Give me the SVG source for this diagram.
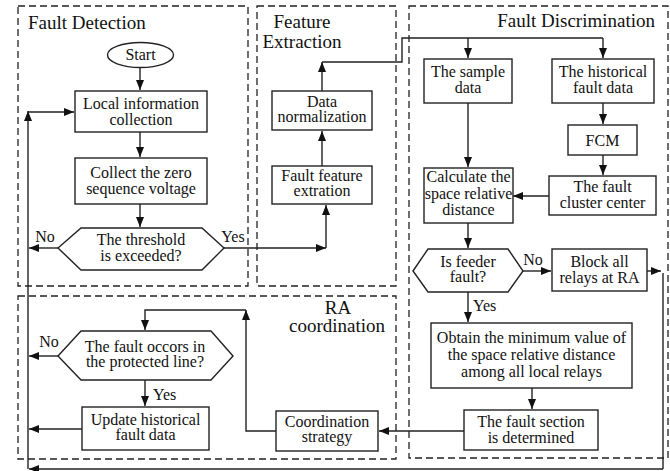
<svg xmlns="http://www.w3.org/2000/svg" width="670" height="471" viewBox="0 0 670 471" font-family="'Liberation Serif', 'DejaVu Serif', serif">
<style>
.frame{fill:none;stroke:#222;stroke-width:1.3;stroke-dasharray:7 4}
.box{fill:#fff;stroke:#222;stroke-width:1.4}
.ln{fill:none;stroke:#222;stroke-width:1.4}
.arr{marker-end:url(#ah)}
text{font-family:'Liberation Serif','DejaVu Serif',serif;font-size:16px;fill:#111;text-anchor:middle}
.title{font-size:19px}
.lbl{font-size:16px}
</style>
<defs>
<marker id="ah" markerUnits="userSpaceOnUse" markerWidth="10" markerHeight="10" viewBox="0 0 10 10" refX="10" refY="5" orient="auto">
<path d="M0,1 L10,5 L0,9 Z" fill="#111"/>
</marker>
</defs>
<rect width="670" height="471" fill="#fff"/>

<g id="frames">
<rect class="frame" x="18" y="6" width="230" height="280"/>
<rect class="frame" x="257" y="6" width="139" height="280"/>
<rect class="frame" x="409" y="6" width="259" height="452"/>
<rect class="frame" x="18" y="296" width="378" height="163"/>
<text class="title" x="28" y="29" style="text-anchor:start">Fault Detection</text>
<text class="title" x="302" y="28">Feature</text>
<text class="title" x="302" y="48">Extraction</text>
<text class="title" x="655" y="27" style="text-anchor:end">Fault Discrimination</text>
<text class="title" x="338" y="314">RA</text>
<text class="title" x="337" y="332">coordination</text>
</g>

<g id="connectors">
<path class="ln arr" d="M140,68 V90"/>
<path class="ln arr" d="M140,132 V157"/>
<path class="ln arr" d="M140,204 V227"/>
<path class="ln arr" d="M58,248 H29"/>
<path class="ln arr" d="M224,248 H326"/>
<path class="ln arr" d="M326,248 V205"/>
<path class="ln arr" d="M322,166 V131"/>
<path class="ln arr" d="M322,91 V62"/>
<path class="ln" d="M322,62 H402 V38 H603"/>
<path class="ln arr" d="M468,38 V58"/>
<path class="ln arr" d="M603,38 V58"/>
<path class="ln arr" d="M603,103 V124"/>
<path class="ln arr" d="M603,155 V175"/>
<path class="ln arr" d="M549,196 H513"/>
<path class="ln arr" d="M468,103 V167"/>
<path class="ln arr" d="M468,223 V248"/>
<path class="ln arr" d="M523,271 H551"/>
<path class="ln arr" d="M468,292 V322"/>
<path class="ln arr" d="M532,388 V409"/>
<path class="ln arr" d="M647,271 H661"/>
<path class="ln" d="M663,273 V469"/>
<path class="ln arr" d="M663,469 H29"/>
<path class="ln arr" d="M464,431 H379"/>
<path class="ln arr" d="M276,431 H246 V310"/>
<path class="ln arr" d="M246,310 H145 V330"/>
<path class="ln arr" d="M58,356 H29"/>
<path class="ln arr" d="M145,380 V406"/>
<path class="ln arr" d="M82,429 H29"/>
<path class="ln arr" d="M28,469 V111"/>
<path class="ln arr" d="M28,112 H74"/>
<text class="lbl" x="45" y="242">No</text>
<text class="lbl" x="233" y="242">Yes</text>
<text class="lbl" x="533" y="265">No</text>
<text class="lbl" x="473" y="311" style="text-anchor:start">Yes</text>
<text class="lbl" x="49" y="347">No</text>
<text class="lbl" x="153" y="400" style="text-anchor:start">Yes</text>
</g>

<g id="start">
<ellipse class="box" cx="140.5" cy="55" rx="33" ry="12.5"/>
<text x="140.5" y="60">Start</text>
</g>
<g id="local-info">
<rect class="box" x="75" y="91" width="132" height="41"/>
<text x="141" y="109">Local information</text>
<text x="141" y="125">collection</text>
</g>
<g id="collect-zero">
<rect class="box" x="75" y="158" width="132" height="46"/>
<text x="141" y="178">Collect the zero</text>
<text x="141" y="194">sequence voltage</text>
</g>
<g id="threshold">
<polygon class="box" points="58,248 81,228 202,228 224,248 202,270 81,270"/>
<text x="141" y="245">The threshold</text>
<text x="141" y="261">is exceeded?</text>
</g>
<g id="feature-extration">
<rect class="box" x="272" y="166" width="100" height="38"/>
<text x="322" y="181">Fault feature</text>
<text x="322" y="196">extration</text>
</g>
<g id="data-normalization">
<rect class="box" x="272" y="91" width="100" height="39"/>
<text x="322" y="107">Data</text>
<text x="322" y="122">normalization</text>
</g>
<g id="sample-data">
<rect class="box" x="424" y="59" width="88" height="44"/>
<text x="468" y="77">The sample</text>
<text x="468" y="93">data</text>
</g>
<g id="historical-data">
<rect class="box" x="552" y="59" width="102" height="44"/>
<text x="603" y="77">The historical</text>
<text x="603" y="93">fault data</text>
</g>
<g id="fcm">
<rect class="box" x="568" y="125" width="69" height="30"/>
<text x="602.5" y="146">FCM</text>
</g>
<g id="cluster-center">
<rect class="box" x="549" y="176" width="107" height="39"/>
<text x="602.5" y="192">The fault</text>
<text x="602.5" y="208">cluster center</text>
</g>
<g id="calculate">
<rect class="box" x="424" y="168" width="89" height="55"/>
<text x="468.5" y="182">Calculate the</text>
<text x="468.5" y="198.5">space relative</text>
<text x="468.5" y="215">distance</text>
</g>
<g id="feeder-fault">
<polygon class="box" points="413,271 428,249 508,249 523,271 508,292 428,292"/>
<text x="468" y="267">Is feeder</text>
<text x="468" y="282">fault?</text>
</g>
<g id="block-relays">
<rect class="box" x="552" y="249" width="95" height="42"/>
<text x="599.5" y="267">Block all</text>
<text x="599.5" y="283">relays at RA</text>
</g>
<g id="obtain-min">
<rect class="box" x="431" y="323" width="201" height="65"/>
<text x="531.5" y="343">Obtain the minimum value of</text>
<text x="531.5" y="360">the space relative distance</text>
<text x="531.5" y="377">among all local relays</text>
</g>
<g id="fault-section">
<rect class="box" x="464" y="410" width="134" height="40"/>
<text x="531" y="427">The fault section</text>
<text x="531" y="443">is determined</text>
</g>
<g id="coordination-strategy">
<rect class="box" x="276" y="411" width="102" height="40"/>
<text x="327" y="427">Coordination</text>
<text x="327" y="442">strategy</text>
</g>
<g id="fault-occurs">
<polygon class="box" points="58,356 81,331 211,331 233,356 211,380 81,380"/>
<text x="145" y="352">The fault occors in</text>
<text x="145" y="367">the protected line?</text>
</g>
<g id="update-historical">
<rect class="box" x="82" y="407" width="127" height="43"/>
<text x="145.5" y="425">Update historical</text>
<text x="145.5" y="440">fault data</text>
</g>
</svg>
